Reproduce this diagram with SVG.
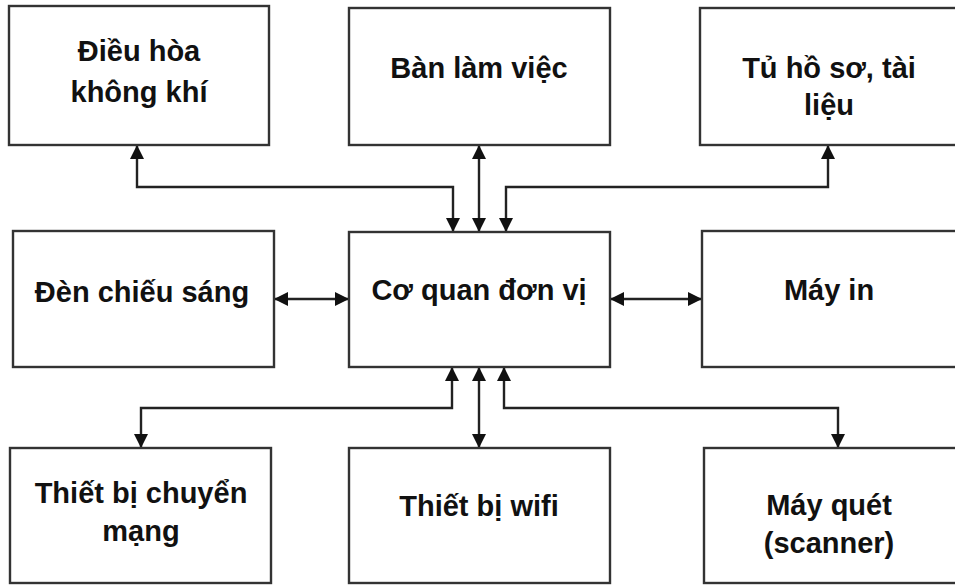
<svg xmlns="http://www.w3.org/2000/svg" width="955" height="586" viewBox="0 0 955 586">
<style>
.box{fill:#fff;stroke:#333;stroke-width:2.4}
.t{font-family:"Liberation Sans",Arial,sans-serif;font-weight:bold;font-size:29px;fill:#111;text-anchor:middle}
.c{fill:none;stroke:#222;stroke-width:2.4}
</style>
<defs>
<marker id="ah" viewBox="0 0 14 14" refX="14" refY="7" markerWidth="14" markerHeight="14" markerUnits="userSpaceOnUse" orient="auto-start-reverse">
<path d="M0,0 L14,7 L0,14 z" fill="#111"/>
</marker>
</defs>
<rect width="955" height="586" fill="#fff"/>
<g id="connectors">
<path class="c" d="M453,232 V187 H137 V145" marker-start="url(#ah)" marker-end="url(#ah)"/>
<path class="c" d="M479,232 V145" marker-start="url(#ah)" marker-end="url(#ah)"/>
<path class="c" d="M506,232 V187 H828 V145" marker-start="url(#ah)" marker-end="url(#ah)"/>
<path class="c" d="M349,299 H274" marker-start="url(#ah)" marker-end="url(#ah)"/>
<path class="c" d="M610,299 H702" marker-start="url(#ah)" marker-end="url(#ah)"/>
<path class="c" d="M452,367 V408 H141 V448" marker-start="url(#ah)" marker-end="url(#ah)"/>
<path class="c" d="M479,367 V448" marker-start="url(#ah)" marker-end="url(#ah)"/>
<path class="c" d="M504,367 V408 H838 V448" marker-start="url(#ah)" marker-end="url(#ah)"/>
</g>
<g id="dieu-hoa"><rect class="box" x="9" y="6" width="260" height="139"/><text class="t" x="139" y="61">Điều hòa</text><text class="t" x="139" y="102">không khí</text></g>
<g id="ban-lam-viec"><rect class="box" x="349" y="8" width="261" height="137"/><text class="t" x="479" y="78">Bàn làm việc</text></g>
<g id="tu-ho-so"><rect class="box" x="700" y="8" width="270" height="137"/><text class="t" x="829" y="78">Tủ hồ sơ, tài</text><text class="t" x="829" y="115">liệu</text></g>
<g id="den-chieu-sang"><rect class="box" x="13" y="231" width="261" height="136"/><text class="t" x="142" y="302">Đèn chiếu sáng</text></g>
<g id="co-quan"><rect class="box" x="349" y="232" width="261" height="135"/><text class="t" x="479" y="300">Cơ quan đơn vị</text></g>
<g id="may-in"><rect class="box" x="702" y="231" width="270" height="136"/><text class="t" x="829" y="300">Máy in</text></g>
<g id="thiet-bi-chuyen-mang"><rect class="box" x="10" y="448" width="261" height="135"/><text class="t" x="141" y="503">Thiết bị chuyển</text><text class="t" x="141" y="541">mạng</text></g>
<g id="thiet-bi-wifi"><rect class="box" x="349" y="448" width="261" height="135"/><text class="t" x="479" y="516">Thiết bị wifi</text></g>
<g id="may-quet"><rect class="box" x="704" y="448" width="270" height="135"/><text class="t" x="829" y="515">Máy quét</text><text class="t" x="829" y="553">(scanner)</text></g>
</svg>
